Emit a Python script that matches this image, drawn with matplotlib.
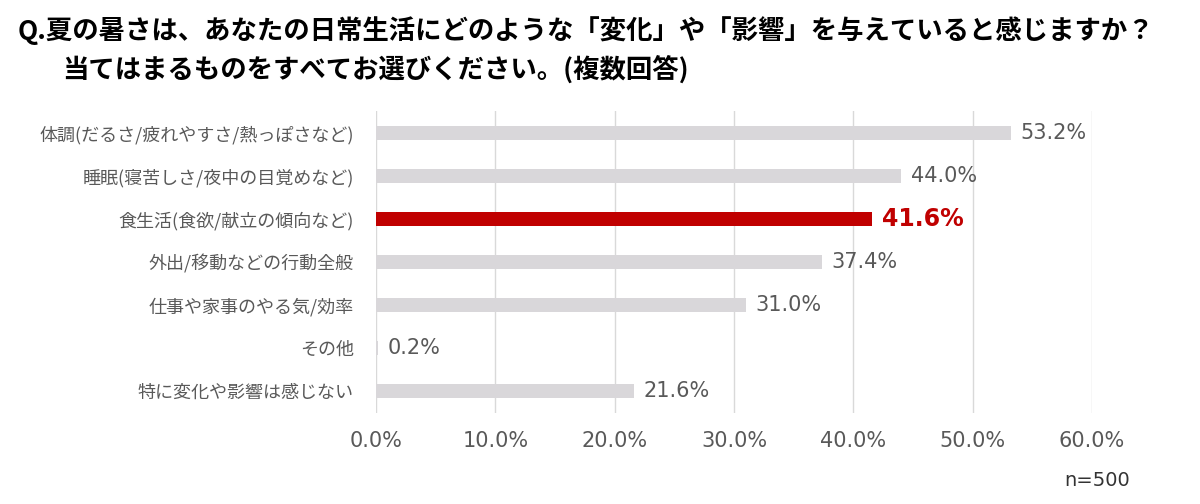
import matplotlib
matplotlib.use("Agg")
import matplotlib.pyplot as plt
from matplotlib.ticker import FuncFormatter

plt.rcParams['font.family'] = ['Noto Sans CJK JP', 'DejaVu Sans']

# Data (top to bottom)
categories = [
    '体調(だるさ/疲れやすさ/熱っぽさなど)',
    '睡眠(寝苦しさ/夜中の目覚めなど)',
    '食生活(食欲/献立の傾向など)',
    '外出/移動などの行動全般',
    '仕事や家事のやる気/効率',
    'その他',
    '特に変化や影響は感じない',
]
values = [53.2, 44.0, 41.6, 37.4, 31.0, 0.2, 21.6]
highlight = 2
x_ticks = [0, 10, 20, 30, 40, 50, 60]

gray = '#d9d7da'
red = '#c00000'
text_gray = '#595959'
num_font = ['DejaVu Sans']

fig = plt.figure(figsize=(12, 5.04), dpi=100)
ax = fig.add_axes([0.3133, 0.1815, 0.5967, 0.5973])

ypos = list(range(len(categories)))
colors = [red if i == highlight else gray for i in ypos]
ax.barh(ypos, values, height=0.33, color=colors, zorder=3)

for i, v in enumerate(values):
    if i == highlight:
        ax.text(v + 0.8, i, f'{v:.1f}%', va='center', ha='left', family=num_font,
                fontsize=17, fontweight='bold', color=red)
    else:
        ax.text(v + 0.8, i, f'{v:.1f}%', va='center', ha='left', family=num_font,
                fontsize=15, color=text_gray)

ax.set_ylim(len(categories) - 0.5, -0.5)
ax.set_xlim(0, 60)
ax.set_xticks(x_ticks)
ax.xaxis.set_major_formatter(FuncFormatter(lambda x, p: f'{x:.1f}%'))
ax.set_yticks(ypos)
ax.set_yticklabels(categories)
for lbl in ax.get_xticklabels():
    lbl.set_family(num_font)

ax.grid(axis='x', color='#d9d9d9', linewidth=1, zorder=0)
for s in ax.spines.values():
    s.set_visible(False)
ax.tick_params(axis='x', length=0, pad=13, labelsize=15, labelcolor=text_gray)
ax.tick_params(axis='y', length=0, pad=16, labelsize=13, labelcolor=text_gray)

fig.text(0.015, 0.94, 'Q.夏の暑さは、あなたの日常生活にどのような「変化」や「影響」を与えていると感じますか？',
         fontsize=19, fontweight='bold', color='black', va='center', ha='left')
fig.text(0.052, 0.862, '当てはまるものをすべてお選びください。(複数回答)',
         fontsize=19, fontweight='bold', color='black', va='center', ha='left')
fig.text(0.942, 0.047, 'n=500', fontsize=14, color='#333333', ha='right', va='center',
         family=num_font)

fig.savefig('out.png', dpi=100)
